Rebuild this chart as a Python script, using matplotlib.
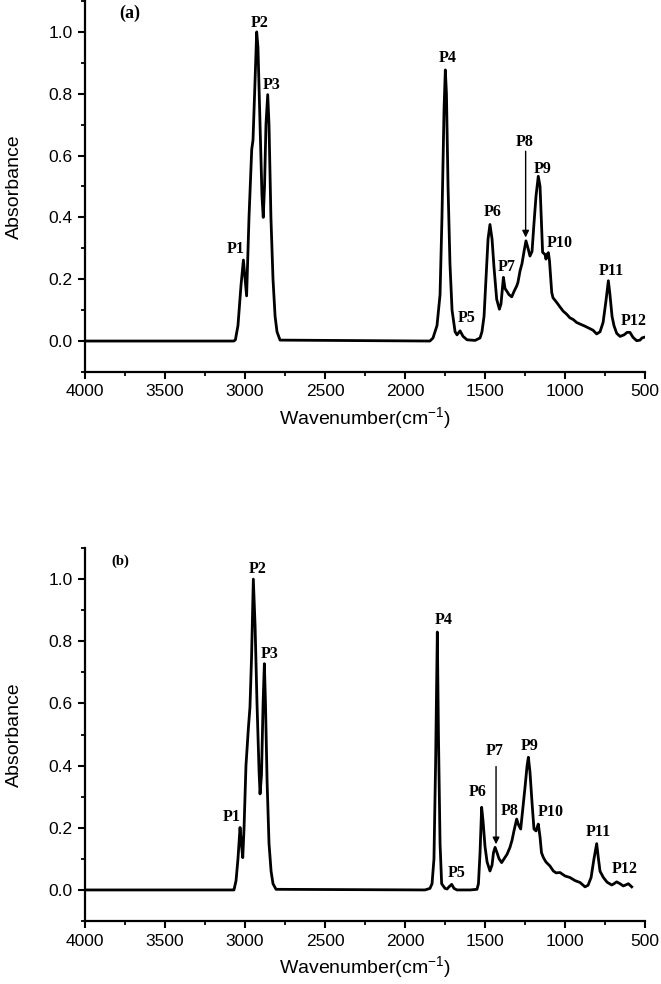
import matplotlib
matplotlib.use("Agg")
import matplotlib.pyplot as plt
from matplotlib.ticker import MultipleLocator

plt.rcParams['font.family'] = ['Liberation Sans', 'DejaVu Sans']
plt.rcParams['mathtext.fontset'] = 'custom'
plt.rcParams['mathtext.rm'] = 'Liberation Sans'
plt.rcParams['mathtext.it'] = 'Liberation Sans'

# Spectrum (a): wavenumber (cm-1) and absorbance
wn_a = [4000, 3070, 3060, 3044, 3025, 3010, 2990, 2975, 2958, 2950, 2940, 2927,
        2919, 2906, 2894, 2886, 2878, 2869, 2858, 2850, 2838, 2825, 2812, 2800,
        2781, 1844, 1825, 1800, 1781, 1769, 1756, 1748, 1741, 1731, 1719, 1706,
        1687, 1675, 1656, 1637, 1612, 1562, 1531, 1519, 1506, 1494, 1481, 1469,
        1456, 1444, 1427, 1410, 1400, 1385, 1375, 1362, 1350, 1333, 1319, 1302,
        1294, 1281, 1269, 1256, 1244, 1231, 1219, 1206, 1194, 1181, 1167, 1156,
        1147, 1140, 1125, 1119, 1112, 1104, 1097, 1083, 1075, 1052, 1031, 1012,
        990, 969, 950, 927, 906, 875, 844, 825, 802, 781, 762, 744, 729, 719,
        706, 694, 677, 656, 631, 612, 594, 575, 552, 531, 519, 506]
abs_a = [0.0, 0.0, 0.004, 0.05, 0.18, 0.262, 0.146, 0.40, 0.62, 0.65, 0.80, 1.0,
         0.95, 0.70, 0.47, 0.40, 0.50, 0.70, 0.797, 0.70, 0.40, 0.20, 0.08, 0.03,
         0.003, 0.0, 0.01, 0.05, 0.15, 0.40, 0.75, 0.877, 0.80, 0.50, 0.25, 0.10,
         0.03, 0.02, 0.033, 0.015, 0.004, 0.002, 0.01, 0.03, 0.08, 0.20, 0.33, 0.377,
         0.33, 0.24, 0.135, 0.103, 0.12, 0.206, 0.17, 0.16, 0.15, 0.143, 0.16, 0.178,
         0.19, 0.227, 0.25, 0.29, 0.324, 0.30, 0.275, 0.29, 0.38, 0.47, 0.533, 0.50,
         0.38, 0.287, 0.28, 0.265, 0.28, 0.286, 0.26, 0.157, 0.14, 0.125, 0.11, 0.097,
         0.087, 0.075, 0.07, 0.06, 0.055, 0.048, 0.04, 0.035, 0.023, 0.03, 0.06, 0.13,
         0.195, 0.15, 0.08, 0.05, 0.025, 0.015, 0.02, 0.028, 0.028, 0.012, 0.001,
         0.003, 0.01, 0.012]

# Spectrum (b)
wn_b = [4000, 3080, 3069, 3056, 3044, 3031, 3023, 3014, 3006, 2994, 2979, 2969,
        2959, 2948, 2937, 2925, 2912, 2906, 2897, 2887, 2879, 2872, 2862, 2850,
        2837, 2825, 2806, 1875, 1844, 1831, 1819, 1809, 1798, 1791, 1781, 1771,
        1750, 1737, 1725, 1708, 1694, 1675, 1594, 1550, 1541, 1531, 1521, 1512,
        1500, 1487, 1469, 1456, 1447, 1437, 1425, 1412, 1396, 1381, 1362, 1344,
        1331, 1319, 1302, 1291, 1277, 1266, 1250, 1237, 1229, 1219, 1206, 1194,
        1181, 1175, 1167, 1156, 1147, 1135, 1119, 1094, 1073, 1056, 1031, 1000,
        969, 937, 906, 875, 856, 837, 819, 802, 791, 781, 760, 737, 708, 694,
        677, 656, 636, 625, 604, 583]
abs_b = [0.0, 0.0, 0.0, 0.03, 0.10, 0.201, 0.15, 0.104, 0.20, 0.40, 0.52, 0.588,
         0.75, 1.0, 0.85, 0.60, 0.38, 0.309, 0.37, 0.60, 0.728, 0.60, 0.35, 0.15,
         0.06, 0.02, 0.002, 0.0, 0.005, 0.02, 0.10, 0.40, 0.83, 0.50, 0.15, 0.02,
         0.005, 0.003, 0.01, 0.018, 0.005, 0.0, 0.0, 0.002, 0.02, 0.12, 0.266, 0.22,
         0.14, 0.09, 0.061, 0.08, 0.12, 0.137, 0.12, 0.10, 0.088, 0.10, 0.115, 0.137,
         0.16, 0.19, 0.228, 0.21, 0.196, 0.25, 0.33, 0.40, 0.427, 0.38, 0.28, 0.196,
         0.19, 0.20, 0.212, 0.17, 0.12, 0.104, 0.09, 0.077, 0.061, 0.055, 0.056, 0.045,
         0.04, 0.03, 0.024, 0.01, 0.015, 0.04, 0.10, 0.149, 0.10, 0.06, 0.04, 0.025,
         0.016, 0.02, 0.026, 0.02, 0.013, 0.015, 0.02, 0.01]

# peak labels: (text, wavenumber, absorbance)
labels_a = [("P1", 3056, 0.297), ("P2", 2909, 1.03), ("P3", 2831, 0.829),
            ("P4", 1731, 0.916), ("P5", 1615, 0.074), ("P6", 1453, 0.416),
            ("P7", 1362, 0.239), ("P8", 1252, 0.643), ("P9", 1142, 0.557),
            ("P10", 1031, 0.316), ("P11", 711, 0.227), ("P12", 570, 0.065)]
labels_b = [("P1", 3086, 0.235), ("P2", 2922, 1.034), ("P3", 2846, 0.760),
            ("P4", 1757, 0.868), ("P5", 1677, 0.056), ("P6", 1547, 0.314),
            ("P7", 1437, 0.446), ("P8", 1347, 0.255), ("P9", 1222, 0.462),
            ("P10", 1089, 0.252), ("P11", 789, 0.187), ("P12", 625, 0.069)]

# arrows: (wavenumber, start, end)
arrow_a = (1246, 0.614, 0.335)
arrow_b = (1431, 0.397, 0.147)

fig = plt.figure(figsize=(6.61, 9.84), dpi=100)
ax_a = fig.add_axes([0.1286, 0.622, 0.8472, 0.377])
ax_b = fig.add_axes([0.1286, 0.064, 0.8472, 0.379])

serif = ['Liberation Serif', 'DejaVu Serif']


def style(ax, wn, ab, labels, arrow, tag, tag_pos, tag_size):
    ax.plot(wn, ab, color='black', lw=2.0, solid_joinstyle='round')
    ax.set_xlim(4000, 500)
    ax.set_ylim(-0.1, 1.1)
    ax.xaxis.set_major_locator(MultipleLocator(500))
    ax.xaxis.set_minor_locator(MultipleLocator(250))
    ax.yaxis.set_minor_locator(MultipleLocator(0.1))
    ax.set_yticks([0.0, 0.2, 0.4, 0.6, 0.8, 1.0])
    ax.spines['top'].set_visible(False)
    ax.spines['right'].set_visible(False)
    for s in ('left', 'bottom'):
        ax.spines[s].set_linewidth(1.6)
    ax.tick_params(which='major', direction='out', length=5, width=1.5,
                   labelsize=12.5, pad=4)
    ax.tick_params(which='minor', direction='out', length=3, width=1.3)
    ax.set_ylabel('Absorbance', fontsize=14)
    ax.yaxis.set_label_coords(-0.11, 0.5)
    ax.set_xlabel(r'Wavenumber(cm$^{\mathrm{-1}}$)', fontsize=14)
    ax.xaxis.set_label_coords(0.5, -0.09)
    for txt, x, y in labels:
        ax.text(x, y, txt, family=serif, fontweight='bold', fontsize=11.5,
                ha='center', va='center')
    ax.annotate('', xy=(arrow[0], arrow[2]), xytext=(arrow[0], arrow[1]),
                arrowprops=dict(arrowstyle='-|>', color='black', lw=1.0,
                                mutation_scale=10, shrinkA=0, shrinkB=0))
    ax.text(tag_pos[0], tag_pos[1], tag, family=serif, fontweight='bold',
            fontsize=tag_size, ha='center', va='center')


style(ax_a, wn_a, abs_a, labels_a, arrow_a, '(a)', (3719, 1.061), 13)
style(ax_b, wn_b, abs_b, labels_b, arrow_b, '(b)', (3781, 1.058), 10.5)

fig.savefig('out.png', dpi=100)
